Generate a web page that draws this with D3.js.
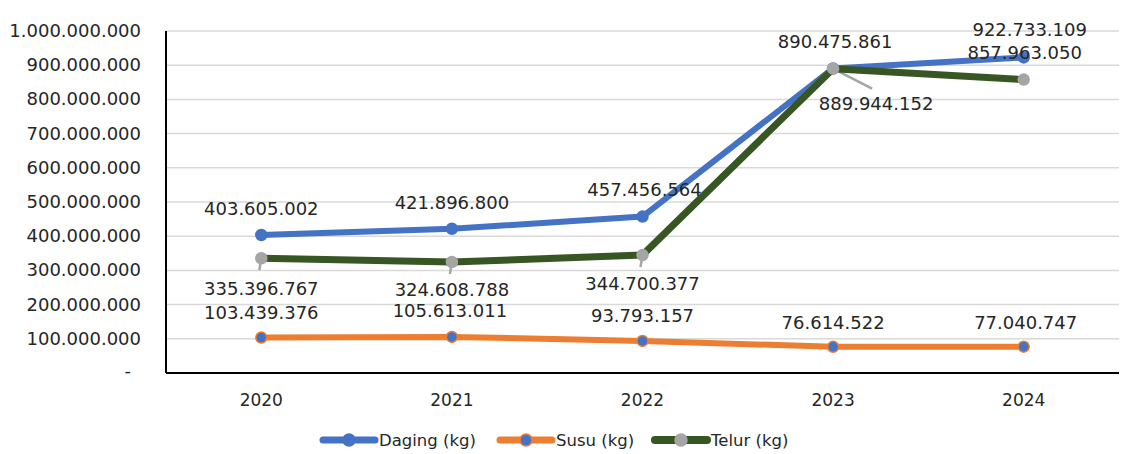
<!DOCTYPE html>
<html>
<head>
<meta charset="utf-8">
<script src="https://cdn.jsdelivr.net/npm/d3@7"></script>
<style>
  body { margin: 0; background: #fff; }
  svg text { font-family: "DejaVu Sans", sans-serif; fill: #262626; }
</style>
</head>
<body>
<div id="chart"></div>
<script>
const years = ["2020", "2021", "2022", "2023", "2024"];
const daging = [403605002, 421896800, 457456564, 890475861, 922733109];
const susu = [103439376, 105613011, 93793157, 76614522, 77040747];
const telur = [335396767, 324608788, 344700377, 889944152, 857963050];
const yTicks = [0, 100000000, 200000000, 300000000, 400000000, 500000000,
    600000000, 700000000, 800000000, 900000000, 1000000000];

const width = 1123;
const height = 454;
const plotLeft = 166, plotRight = 1119, plotTop = 31, plotBottom = 373;

const svg = d3.select("#chart").append("svg")
    .attr("width", width)
    .attr("height", height);

const x = d3.scalePoint().domain(years).range([plotLeft, plotRight]).padding(0.5);
const y = d3.scaleLinear().domain([0, 1000000000]).range([plotBottom, plotTop]);

const fmt = v => v === 0 ? "-" : d3.format(",")(v).replace(/,/g, ".");

// gridlines
svg.append("g")
    .selectAll("line")
    .data(yTicks.filter(t => t > 0))
    .join("line")
    .attr("x1", plotLeft).attr("x2", plotRight)
    .attr("y1", d => y(d)).attr("y2", d => y(d))
    .attr("stroke", "#d9d9d9")
    .attr("stroke-width", 1.5);

// y labels (the zero dash sits a bit left, like Excel's accounting format)
svg.append("g")
    .selectAll("text")
    .data(yTicks)
    .join("text")
    .attr("x", d => d === 0 ? 131 : 141)
    .attr("y", d => y(d) + (d === 0 ? 4 : 6))
    .attr("text-anchor", "end")
    .attr("font-size", "18px")
    .text(fmt);

// axes lines
svg.append("line")
    .attr("x1", plotLeft).attr("x2", plotLeft)
    .attr("y1", plotTop).attr("y2", plotBottom)
    .attr("stroke", "#000").attr("stroke-width", 2);
svg.append("line")
    .attr("x1", plotLeft).attr("x2", plotRight)
    .attr("y1", plotBottom).attr("y2", plotBottom)
    .attr("stroke", "#000").attr("stroke-width", 2);

// x labels
svg.append("g")
    .selectAll("text")
    .data(years)
    .join("text")
    .attr("x", d => x(d))
    .attr("y", 406)
    .attr("text-anchor", "middle")
    .attr("font-size", "17px")
    .text(d => d);

const series = [
    { name: "Daging (kg)", values: daging, line: "#4472C4", width: 6, fill: "#4472C4", stroke: "#4472C4" },
    { name: "Susu (kg)", values: susu, line: "#ED7D31", width: 6, fill: "#4472C4", stroke: "#ED7D31" },
    { name: "Telur (kg)", values: telur, line: "#375623", width: 7, fill: "#A5A5A5", stroke: "#A5A5A5" }
];

const line = d3.line()
    .x((d, i) => x(years[i]))
    .y(d => y(d));

// leader lines for Telur labels
const leaders = [[0, 12], [0, 12], [0, 12], [41, 20]];
svg.append("g")
    .selectAll("line")
    .data(leaders)
    .join("line")
    .attr("x1", (d, i) => x(years[i]))
    .attr("y1", (d, i) => y(telur[i]))
    .attr("x2", (d, i) => x(years[i]) + d[0] - 2)
    .attr("y2", (d, i) => y(telur[i]) + d[1])
    .attr("stroke", "#A5A5A5")
    .attr("stroke-width", 2.5);

series.forEach(s => {
    const g = svg.append("g");
    g.append("path")
        .datum(s.values)
        .attr("d", line)
        .attr("fill", "none")
        .attr("stroke", s.line)
        .attr("stroke-width", s.width)
        .attr("stroke-linejoin", "round")
        .attr("stroke-linecap", "round");
    g.selectAll("circle")
        .data(s.values)
        .join("circle")
        .attr("cx", (d, i) => x(years[i]))
        .attr("cy", d => y(d))
        .attr("r", 5.5)
        .attr("fill", s.fill)
        .attr("stroke", s.stroke)
        .attr("stroke-width", 1.5);
});

// data labels: [dx, dy] from point to label baseline
const labelPos = {
    "Daging (kg)": [[0, -20], [0, -20], [2, -21], [2, -20], [6, -21]],
    "Susu (kg)": [[0, -19], [-2, -20], [0, -19], [0, -18], [2, -18]],
    "Telur (kg)": [[0, 37], [0, 34], [0, 35], [43, 41], [1, -21]]
};
series.forEach(s => {
    svg.append("g")
        .selectAll("text")
        .data(s.values)
        .join("text")
        .attr("x", (d, i) => x(years[i]) + labelPos[s.name][i][0])
        .attr("y", (d, i) => y(d) + labelPos[s.name][i][1])
        .attr("text-anchor", "middle")
        .attr("font-size", "18px")
        .text(fmt);
});

// legend
const legendX = [323, 500, 655];
const legend = svg.append("g");
series.forEach((s, i) => {
    const lg = legend.append("g").attr("transform", `translate(${legendX[i]},440)`);
    lg.append("line")
        .attr("x1", 0).attr("x2", 52)
        .attr("stroke", s.line)
        .attr("stroke-width", s.width + 1)
        .attr("stroke-linecap", "round");
    lg.append("circle")
        .attr("cx", 26).attr("r", 6)
        .attr("fill", s.fill)
        .attr("stroke", s.stroke)
        .attr("stroke-width", 1.5);
    lg.append("text")
        .attr("x", 56).attr("y", 6)
        .attr("font-size", "16.5px")
        .text(s.name);
});
</script>
</body>
</html>
